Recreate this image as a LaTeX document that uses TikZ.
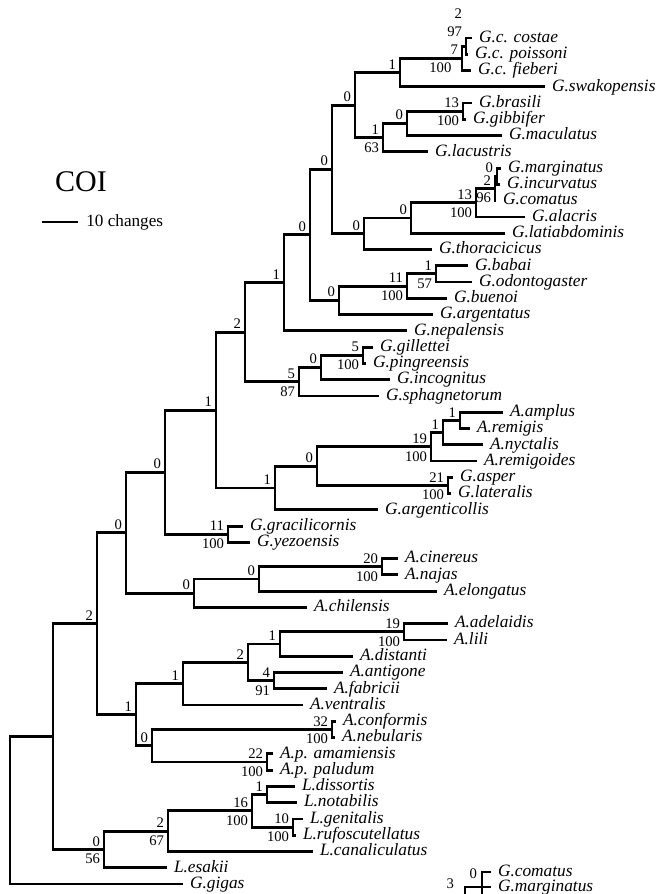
\documentclass[tikz,border=0pt]{standalone}
\usepackage{fontspec}
\setmainfont{Liberation Serif}
\newcommand{\tipfont}{\fontsize{10.4}{12}\selectfont\itshape}
\newcommand{\numfont}{\fontsize{8.8}{10}\selectfont}

\begin{document}
\begin{tikzpicture}[
    x=0.6pt, y=-9.762pt,
    branch/.style={line width=1.7pt, line join=miter},
    taxon/.style={
        anchor=west,
        font=\tipfont,
        inner xsep=4pt,
        inner ysep=0pt,
        text height=7.4pt,
        text depth=2.3pt,
    },
    decay/.style={anchor=south east, font=\numfont, inner xsep=2.2pt, inner ysep=1.8pt},
    boot/.style={anchor=north east, font=\numfont, inner xsep=2.2pt, inner ysep=2.6pt},
]
\useasboundingbox (0,-1.3356) rectangle (656,53.612);
\clip (0,-1.3356) rectangle (656,53.612);

% taxa
\node[taxon] (costae) at (472,1) {G.c. costae};
\node[taxon] (poissoni) at (468,2) {G.c. poissoni};
\node[taxon] (fieberi) at (471,3) {G.c. fieberi};
\node[taxon] (swakopensis) at (545,4) {G.swakopensis};
\node[taxon] (brasili) at (472,5) {G.brasili};
\node[taxon] (gibbifer) at (466,6) {G.gibbifer};
\node[taxon] (maculatus) at (502,7) {G.maculatus};
\node[taxon] (lacustris) at (428,8) {G.lacustris};
\node[taxon] (marginatus) at (501,9) {G.marginatus};
\node[taxon] (incurvatus) at (500,10) {G.incurvatus};
\node[taxon] (comatus) at (496,11) {G.comatus};
\node[taxon] (alacris) at (525,12) {G.alacris};
\node[taxon] (latiabdominis) at (505,13) {G.latiabdominis};
\node[taxon] (thoracicicus) at (432,14) {G.thoracicicus};
\node[taxon] (babai) at (468,15) {G.babai};
\node[taxon] (odontogaster) at (472,16) {G.odontogaster};
\node[taxon] (buenoi) at (447,17) {G.buenoi};
\node[taxon] (argentatus) at (433,18) {G.argentatus};
\node[taxon] (nepalensis) at (407,19) {G.nepalensis};
\node[taxon] (gillettei) at (373,20) {G.gillettei};
\node[taxon] (pingreensis) at (366,21) {G.pingreensis};
\node[taxon] (incognitus) at (390,22) {G.incognitus};
\node[taxon] (sphagnetorum) at (379,23) {G.sphagnetorum};
\node[taxon] (amplus) at (503,24) {A.amplus};
\node[taxon] (remigis) at (470,25) {A.remigis};
\node[taxon] (nyctalis) at (483,26) {A.nyctalis};
\node[taxon] (remigoides) at (477,27) {A.remigoides};
\node[taxon] (asper) at (453,28) {G.asper};
\node[taxon] (lateralis) at (451,29) {G.lateralis};
\node[taxon] (argenticollis) at (378,30) {G.argenticollis};
\node[taxon] (gracilicornis) at (243,31) {G.gracilicornis};
\node[taxon] (yezoensis) at (250,32) {G.yezoensis};
\node[taxon] (cinereus) at (398,33) {A.cinereus};
\node[taxon] (najas) at (398,34) {A.najas};
\node[taxon] (elongatus) at (437,35) {A.elongatus};
\node[taxon] (chilensis) at (307,36) {A.chilensis};
\node[taxon] (adelaidis) at (448,37) {A.adelaidis};
\node[taxon] (lili) at (447,38) {A.lili};
\node[taxon] (distanti) at (353,39) {A.distanti};
\node[taxon] (antigone) at (343,40) {A.antigone};
\node[taxon] (fabricii) at (327,41) {A.fabricii};
\node[taxon] (ventralis) at (303,42) {A.ventralis};
\node[taxon] (conformis) at (336,43) {A.conformis};
\node[taxon] (nebularis) at (335,44) {A.nebularis};
\node[taxon] (amamiensis) at (273,45) {A.p. amamiensis};
\node[taxon] (paludum) at (273,46) {A.p. paludum};
\node[taxon] (dissortis) at (295,47) {L.dissortis};
\node[taxon] (notabilis) at (297,48) {L.notabilis};
\node[taxon] (genitalis) at (303,49) {L.genitalis};
\node[taxon] (rufoscutellatus) at (296,50) {L.rufoscutellatus};
\node[taxon] (canaliculatus) at (313,51) {L.canaliculatus};
\node[taxon] (esakii) at (167,52) {L.esakii};
\node[taxon] (gigas) at (183,53) {G.gigas};

% internal nodes
\coordinate (gctwo) at (466,1.5);
\coordinate (gc) at (462,2.25);
\coordinate (swk) at (400,3.125);
\coordinate (bg) at (463,5.5);
\coordinate (bgm) at (407,6.25);
\coordinate (bgl) at (383,7.125);
\coordinate (topg) at (355,5.125);
\coordinate (mi) at (497,9.5);
\coordinate (mic) at (495,10.25);
\coordinate (mica) at (476,11.125);
\coordinate (micl) at (411,12.0625);
\coordinate (mict) at (364,13.03125);
\coordinate (n9) at (332,9.078);
\coordinate (bo) at (436,15.5);
\coordinate (bob) at (407,16.25);
\coordinate (boba) at (339,17.125);
\coordinate (n8) at (310,13.102);
\coordinate (n7) at (284,16.051);
\coordinate (gp) at (363,20.5);
\coordinate (gpi) at (321,21.25);
\coordinate (gpis) at (299,22.125);
\coordinate (n6) at (245,19.088);
\coordinate (ar) at (460,24.5);
\coordinate (arn) at (443,25.25);
\coordinate (arnr) at (431,26.125);
\coordinate (al) at (448,28.5);
\coordinate (na1) at (317,27.3125);
\coordinate (naq) at (275,28.656);
\coordinate (n5) at (216,23.872);
\coordinate (gy) at (228,31.5);
\coordinate (n4) at (165,27.686);
\coordinate (cn) at (382,33.5);
\coordinate (cne) at (259,34.25);
\coordinate (nach) at (194,35.125);
\coordinate (n3) at (126,31.406);
\coordinate (alili) at (404,37.5);
\coordinate (ald) at (280,38.25);
\coordinate (af) at (274,40.5);
\coordinate (nad) at (248,39.375);
\coordinate (nadv) at (183,40.6875);
\coordinate (cnb) at (332,43.5);
\coordinate (pa) at (267,45.5);
\coordinate (cp) at (152,44.5);
\coordinate (na) at (136,42.594);
\coordinate (n2) at (97,37.0);
\coordinate (dn) at (267,47.5);
\coordinate (gr) at (293,49.5);
\coordinate (dngr) at (252,48.5);
\coordinate (nl2) at (168,49.75);
\coordinate (nl) at (104,50.875);
\coordinate (n1) at (53,43.9375);
\coordinate (root) at (10,48.47);

% branches
\draw[branch]
    (gctwo) |- (costae.west) (gctwo) |- (poissoni.west)
    (gc) |- (gctwo) (gc) |- (fieberi.west)
    (swk) |- (gc) (swk) |- (swakopensis.west)
    (bg) |- (brasili.west) (bg) |- (gibbifer.west)
    (bgm) |- (bg) (bgm) |- (maculatus.west)
    (bgl) |- (bgm) (bgl) |- (lacustris.west)
    (topg) |- (swk) (topg) |- (bgl)
    (mi) |- (marginatus.west) (mi) |- (incurvatus.west)
    (mic) |- (mi) (mic) |- (comatus.west)
    (mica) |- (mic) (mica) |- (alacris.west)
    (micl) |- (mica) (micl) |- (latiabdominis.west)
    (mict) |- (micl) (mict) |- (thoracicicus.west)
    (n9) |- (topg) (n9) |- (mict)
    (bo) |- (babai.west) (bo) |- (odontogaster.west)
    (bob) |- (bo) (bob) |- (buenoi.west)
    (boba) |- (bob) (boba) |- (argentatus.west)
    (n8) |- (n9) (n8) |- (boba)
    (n7) |- (n8) (n7) |- (nepalensis.west)
    (gp) |- (gillettei.west) (gp) |- (pingreensis.west)
    (gpi) |- (gp) (gpi) |- (incognitus.west)
    (gpis) |- (gpi) (gpis) |- (sphagnetorum.west)
    (n6) |- (n7) (n6) |- (gpis)
    (ar) |- (amplus.west) (ar) |- (remigis.west)
    (arn) |- (ar) (arn) |- (nyctalis.west)
    (arnr) |- (arn) (arnr) |- (remigoides.west)
    (al) |- (asper.west) (al) |- (lateralis.west)
    (na1) |- (arnr) (na1) |- (al)
    (naq) |- (na1) (naq) |- (argenticollis.west)
    (n5) |- (n6) (n5) |- (naq)
    (gy) |- (gracilicornis.west) (gy) |- (yezoensis.west)
    (n4) |- (n5) (n4) |- (gy)
    (cn) |- (cinereus.west) (cn) |- (najas.west)
    (cne) |- (cn) (cne) |- (elongatus.west)
    (nach) |- (cne) (nach) |- (chilensis.west)
    (n3) |- (n4) (n3) |- (nach)
    (alili) |- (adelaidis.west) (alili) |- (lili.west)
    (ald) |- (alili) (ald) |- (distanti.west)
    (af) |- (antigone.west) (af) |- (fabricii.west)
    (nad) |- (ald) (nad) |- (af)
    (nadv) |- (nad) (nadv) |- (ventralis.west)
    (cnb) |- (conformis.west) (cnb) |- (nebularis.west)
    (pa) |- (amamiensis.west) (pa) |- (paludum.west)
    (cp) |- (cnb) (cp) |- (pa)
    (na) |- (nadv) (na) |- (cp)
    (n2) |- (n3) (n2) |- (na)
    (dn) |- (dissortis.west) (dn) |- (notabilis.west)
    (gr) |- (genitalis.west) (gr) |- (rufoscutellatus.west)
    (dngr) |- (dn) (dngr) |- (gr)
    (nl2) |- (dngr) (nl2) |- (canaliculatus.west)
    (nl) |- (nl2) (nl) |- (esakii.west)
    (n1) |- (n2) (n1) |- (nl)
    (root) |- (n1) (root) |- (gigas.west);

% support values
\node[decay, yshift=14.4pt] (gctwoD) at (gctwo) {2};
\node[decay, yshift=3.6pt] (gctwoB) at (gctwo) {97};
\node[decay] (gcD) at (gc) {7};
\node[boot, xshift=-4pt] (gcB) at (gc) {100};
\node[decay] (swkD) at (swk) {1};
\node[decay] (bgD) at (bg) {13};
\node[boot] (bgB) at (bg) {100};
\node[decay] (bgmD) at (bgm) {0};
\node[decay] (bglD) at (bgl) {1};
\node[boot] (bglB) at (bgl) {63};
\node[decay] (topgD) at (topg) {0};
\node[decay] (miD) at (mi) {0};
\node[decay] (micD) at (mic) {2};
\node[boot] (micB) at (mic) {96};
\node[decay] (micaD) at (mica) {13};
\node[boot] (micaB) at (mica) {100};
\node[decay] (miclD) at (micl) {0};
\node[decay] (mictD) at (mict) {0};
\node[decay] (n9D) at (n9) {0};
\node[decay] (boD) at (bo) {1};
\node[boot] (boB) at (bo) {57};
\node[decay] (bobD) at (bob) {11};
\node[boot] (bobB) at (bob) {100};
\node[decay] (bobaD) at (boba) {0};
\node[decay] (n8D) at (n8) {0};
\node[decay] (n7D) at (n7) {1};
\node[decay] (gpD) at (gp) {5};
\node[boot] (gpB) at (gp) {100};
\node[decay] (gpiD) at (gpi) {0};
\node[decay] (gpisD) at (gpis) {5};
\node[boot] (gpisB) at (gpis) {87};
\node[decay] (n6D) at (n6) {2};
\node[decay] (arD) at (ar) {1};
\node[decay] (arnD) at (arn) {1};
\node[decay] (arnrD) at (arnr) {19};
\node[boot] (arnrB) at (arnr) {100};
\node[decay] (alD) at (al) {21};
\node[boot] (alB) at (al) {100};
\node[decay] (na1D) at (na1) {0};
\node[decay] (naqD) at (naq) {1};
\node[decay] (n5D) at (n5) {1};
\node[decay] (gyD) at (gy) {11};
\node[boot] (gyB) at (gy) {100};
\node[decay] (n4D) at (n4) {0};
\node[decay] (cnD) at (cn) {20};
\node[boot] (cnB) at (cn) {100};
\node[decay] (cneD) at (cne) {0};
\node[decay] (nachD) at (nach) {0};
\node[decay] (n3D) at (n3) {0};
\node[decay] (aliliD) at (alili) {19};
\node[boot] (aliliB) at (alili) {100};
\node[decay] (aldD) at (ald) {1};
\node[decay] (afD) at (af) {4};
\node[boot] (afB) at (af) {91};
\node[decay] (nadD) at (nad) {2};
\node[decay] (nadvD) at (nadv) {1};
\node[decay] (cnbD) at (cnb) {32};
\node[boot] (cnbB) at (cnb) {100};
\node[decay] (paD) at (pa) {22};
\node[boot] (paB) at (pa) {100};
\node[decay] (cpD) at (cp) {0};
\node[decay] (naD) at (na) {1};
\node[decay] (n2D) at (n2) {2};
\node[decay] (dnD) at (dn) {1};
\node[decay] (grD) at (gr) {10};
\node[boot] (grB) at (gr) {100};
\node[decay] (dngrD) at (dngr) {16};
\node[boot] (dngrB) at (dngr) {100};
\node[decay] (nl2D) at (nl2) {2};
\node[boot] (nl2B) at (nl2) {67};
\node[decay] (nlD) at (nl) {0};
\node[boot] (nlB) at (nl) {56};

% title and scale
\node[font=\fontsize{18}{20}\selectfont, anchor=base] (coi) at (81,10.447) {COI};
\coordinate (barl) at (42,12.31);
\node[anchor=west, font=\fontsize{10.3}{12}\selectfont, inner xsep=4.8pt,
      text height=7.4pt, text depth=2.3pt] (bar) at (78,12.31) {10 changes};
\draw[branch] (barl) -- (bar.west);

% inset, cut by the lower edge
\node[taxon] (comatustwo) at (491,52.26) {G.comatus};
\node[taxon] (marginatustwo) at (491,53.18) {G.marginatus};
\coordinate (ia) at (482,53.18);
\coordinate (ic) at (482,54.2);
\coordinate (ib) at (465,54.0);
\draw[branch] (ib) |- (ia) -- (marginatustwo.west) (ic) |- (comatustwo.west);
\node[decay, anchor=east] (iaD) at (481,52.35) {0};
\node[decay, anchor=east, inner ysep=0pt] (ibD) at (458,53.0) {3};

\end{tikzpicture}
\end{document}
